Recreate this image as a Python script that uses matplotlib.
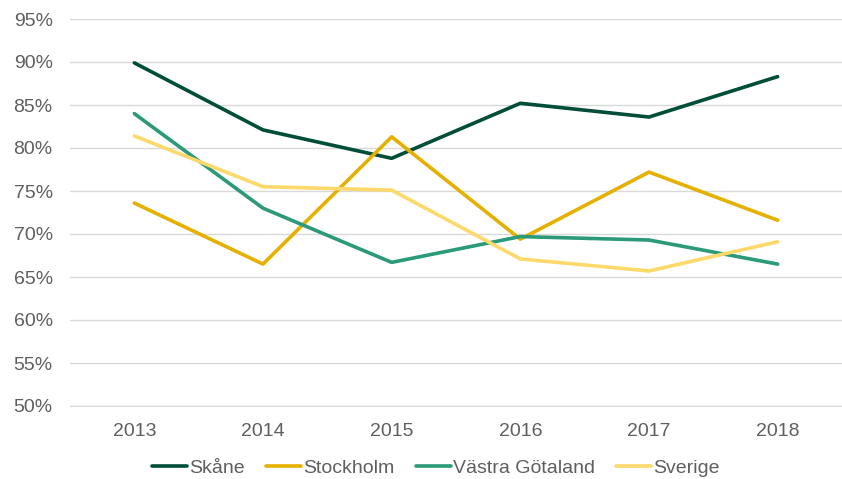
import matplotlib
matplotlib.use("Agg")
import matplotlib.pyplot as plt
import numpy as np

years = ["2013", "2014", "2015", "2016", "2017", "2018"]
skane = [89.9, 82.1, 78.8, 85.2, 83.6, 88.3]
stockholm = [73.6, 66.5, 81.3, 69.4, 77.2, 71.6]
vastra_gotaland = [84.0, 73.0, 66.7, 69.7, 69.3, 66.5]
sverige = [81.4, 75.5, 75.1, 67.1, 65.7, 69.1]

series = [
    ("Skåne", skane, "#004d38"),
    ("Stockholm", stockholm, "#e6b000"),
    ("Västra Götaland", vastra_gotaland, "#2a9a7a"),
    ("Sverige", sverige, "#fcd96a"),
]

plt.rcParams['font.family'] = ['Liberation Sans', 'DejaVu Sans']
txt = "#5f5f5f"

fig = plt.figure(figsize=(8.42, 4.79), dpi=100)
ax = fig.add_axes([70 / 842, 1 - 406 / 479, 1 - 70 / 842, 387 / 479])

x = np.arange(len(years))
for name, vals, col in series:
    ax.plot(x, vals, color=col, lw=2.6, label=name, solid_capstyle="round")

ax.set_xlim(-0.5, len(years) - 0.5)
ax.set_ylim(50, 95)
ax.set_yticks(np.arange(50, 96, 5))
ax.set_yticklabels([f"{v}%" for v in range(50, 96, 5)])
ax.set_xticks(x)
ax.set_xticklabels(years)
ax.grid(axis="y", color="#d9d9d9", lw=1)
ax.set_axisbelow(True)
for s in ["top", "right", "left"]:
    ax.spines[s].set_visible(False)
ax.spines["bottom"].set_color("#d9d9d9")
ax.tick_params(length=0, labelsize=14, colors=txt)
ax.tick_params(axis="y", pad=12.5)
ax.tick_params(axis="x", pad=12)

leg = fig.legend(loc="center", bbox_to_anchor=(0.518, 0.023), ncol=4, frameon=False,
                 fontsize=14, handlelength=1.8, handletextpad=0.1, columnspacing=1.1,
                 borderpad=0.0)
for t in leg.get_texts():
    t.set_color(txt)

fig.savefig("out.png", dpi=100)
